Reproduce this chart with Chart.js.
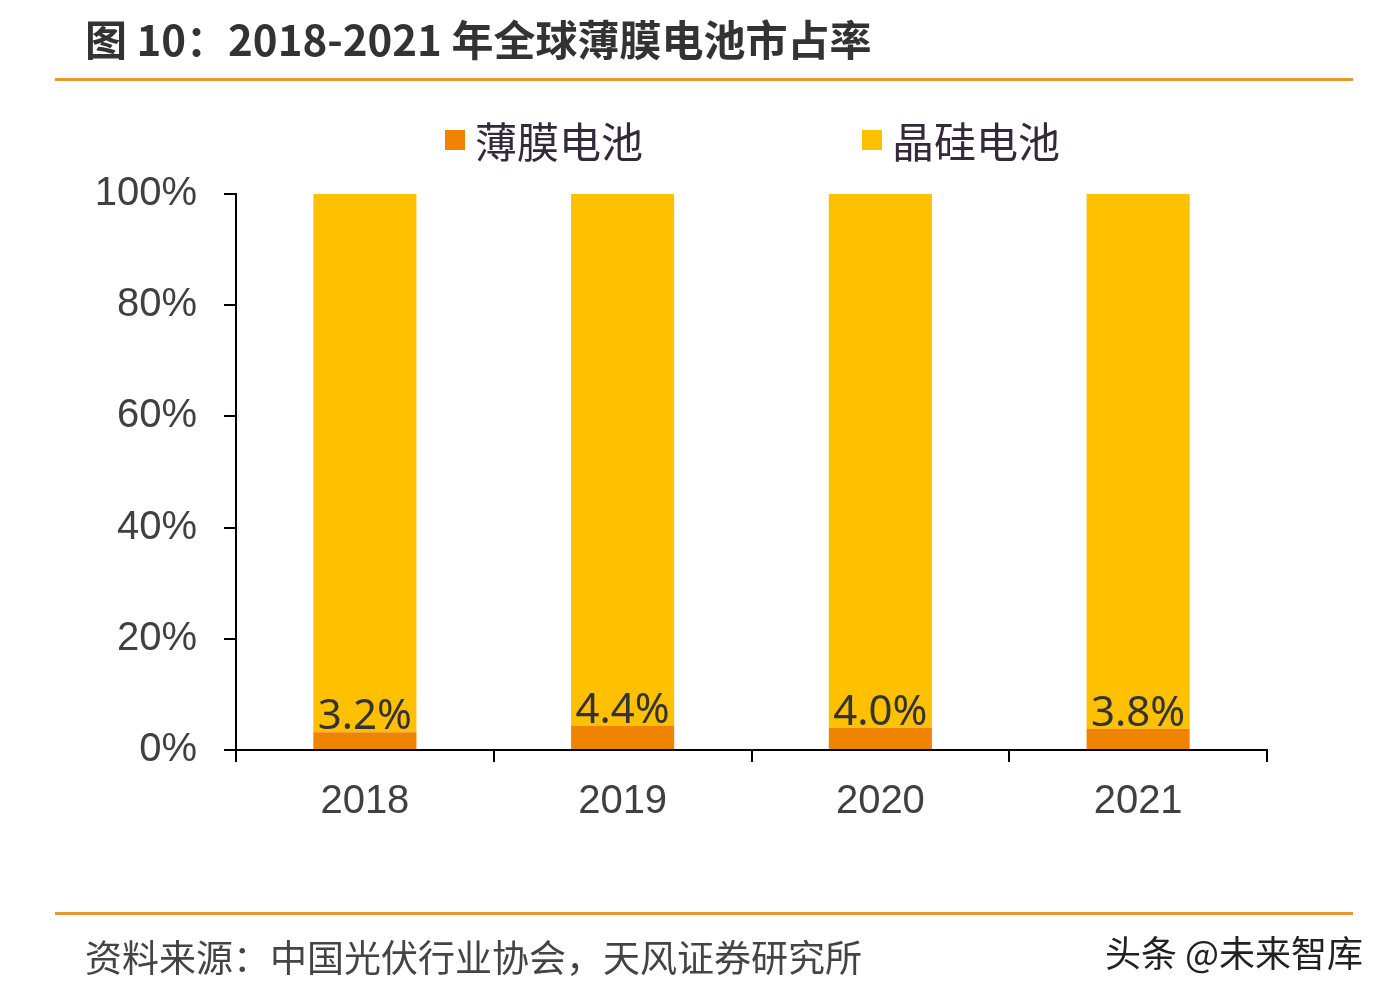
<!DOCTYPE html>
<html>
<head>
<meta charset="utf-8">
<script src="https://cdn.jsdelivr.net/npm/chart.js@4.4.0/dist/chart.umd.min.js"></script>
<style>
    body { margin: 0; background: #fff; }
    #page { position: relative; width: 1390px; height: 996px; overflow: hidden; background: #fff; }
    #chartBox { position: absolute; left: 0; top: 0; width: 1390px; height: 996px; }
    .title { position: absolute; left: 85px; top: 7px; font: bold 42px "Noto Sans CJK SC", sans-serif; color: #333; white-space: nowrap; }
    .rule { position: absolute; left: 55px; width: 1298px; height: 3px; background: #E8962E; }
    .legend { position: absolute; top: 109px; font: 42px "Noto Sans CJK SC", sans-serif; color: #35283a; white-space: nowrap; }
    .legend span.box { display: inline-block; width: 20px; height: 20px; margin-right: 10px; vertical-align: 8px; }
    .source { position: absolute; left: 85px; top: 929px; font: 37px "Noto Sans CJK SC", sans-serif; color: #444; white-space: nowrap; }
    .mark { position: absolute; left: 1105px; top: 925px; font: 36px "Noto Sans CJK SC", sans-serif; color: #222; white-space: nowrap;
            text-shadow: -1px -1px 0 #fff, 1px 1px 0 #fff, 1px -1px 0 #fff, -1px 1px 0 #fff; }
</style>
</head>
<body>
<div id="page">
    <div id="chartBox"><canvas id="shareChart"></canvas></div>
    <div class="title">图 10：2018-2021 年全球薄膜电池市占率</div>
    <div class="rule" style="top:78px"></div>
    <div id="legendBox"></div>
    <div class="rule" style="top:912px"></div>
    <div class="source">资料来源：中国光伏行业协会，天风证券研究所</div>
    <div class="mark">头条 @未来智库</div>
</div>
<script>
// 数据
const years = ['2018', '2019', '2020', '2021'];
const thinFilm = [3.2, 4.4, 4.0, 3.8];
const crystalline = [96.8, 95.6, 96.0, 96.2];
const yTicks = [0, 20, 40, 60, 80, 100];

const seriesNames = ['薄膜电池', '晶硅电池'];
const seriesColors = ['#F08300', '#FFC000'];

// 图例 (HTML)
const legendPos = [445, 862];
const legendBox = document.getElementById('legendBox');
seriesNames.forEach((name, i) => {
    const div = document.createElement('div');
    div.className = 'legend';
    div.style.left = legendPos[i] + 'px';
    div.innerHTML = `<span class="box" style="background:${seriesColors[i]}"></span>${name}`;
    legendBox.appendChild(div);
});

// 薄膜电池数值标签
const valueLabels = {
    id: 'valueLabels',
    afterDatasetsDraw(chart) {
        const ctx = chart.ctx;
        const meta = chart.getDatasetMeta(0);
        ctx.save();
        ctx.font = '42px "Noto Sans", sans-serif';
        ctx.fillStyle = '#333';
        ctx.textAlign = 'center';
        ctx.textBaseline = 'bottom';
        meta.data.forEach((bar, i) => {
            ctx.fillText(thinFilm[i].toFixed(1) + '%', bar.x, bar.y + 6);
        });
        ctx.restore();
    }
};

const ctx = document.getElementById('shareChart').getContext('2d');
new Chart(ctx, {
    type: 'bar',
    data: {
        labels: years,
        datasets: [
            { label: seriesNames[0], data: thinFilm, backgroundColor: seriesColors[0], barPercentage: 0.4, categoryPercentage: 1 },
            { label: seriesNames[1], data: crystalline, backgroundColor: seriesColors[1], barPercentage: 0.4, categoryPercentage: 1 }
        ]
    },
    options: {
        responsive: true,
        maintainAspectRatio: false,
        animation: false,
        layout: { padding: { left: 0, right: 123, top: 194, bottom: 146 } },
        plugins: { legend: { display: false }, tooltip: { enabled: false } },
        scales: {
            x: {
                stacked: true,
                grid: { offset: true, drawOnChartArea: false, tickLength: 12, color: '#000', lineWidth: 2 },
                border: { color: '#000', width: 2 },
                ticks: { font: { family: 'Liberation Sans', size: 40 }, color: '#404040', padding: 16 },
                afterFit(scale) { scale.height = 100; }
            },
            y: {
                stacked: true,
                min: 0,
                max: 100,
                afterBuildTicks(scale) { scale.ticks = yTicks.map(v => ({ value: v })); },
                grid: { drawOnChartArea: false, tickLength: 12, color: '#000', lineWidth: 2 },
                border: { color: '#000', width: 2 },
                ticks: {
                    font: { family: 'Liberation Sans', size: 40 },
                    color: '#404040',
                    padding: 27,
                    callback: v => v + '%'
                },
                afterFit(scale) { scale.width = 236; }
            }
        }
    },
    plugins: [valueLabels]
});
</script>
</body>
</html>
